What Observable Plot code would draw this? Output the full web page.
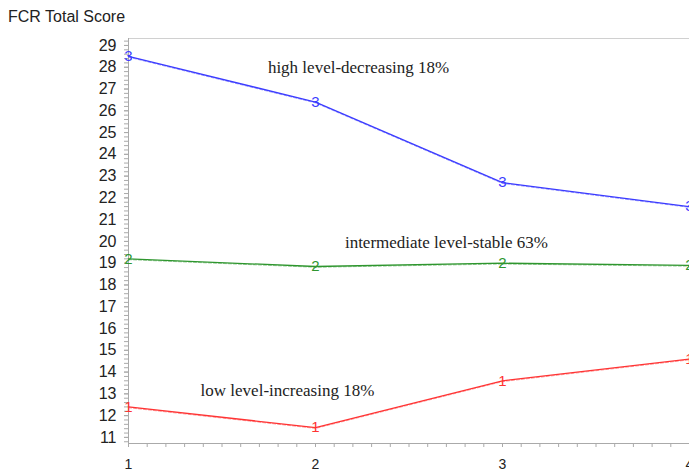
<!DOCTYPE html>
<html>
<head>
<meta charset="utf-8">
<script src="https://cdn.jsdelivr.net/npm/d3@7"></script>
<script src="https://cdn.jsdelivr.net/npm/@observablehq/plot@0.6"></script>
<style>
  body { margin: 0; background: #fff; }
  #title { height: 30px; font: 16px "Liberation Sans", Arial, sans-serif; color: #222; padding-left: 8px; line-height: 34px; box-sizing: border-box; }
</style>
</head>
<body>
<div id="title">FCR Total Score</div>
<div id="chart"></div>
<script>
const timePoints = [1, 2, 3, 4];
const highValues = [28.5, 26.4, 22.7, 21.6];
const midValues = [19.2, 18.85, 19.0, 18.9];
const lowValues = [12.4, 11.45, 13.6, 14.6];
const seriesNames = ["3", "2", "1"];
const seriesColors = ["#3b3bff", "#2f962f", "#ff3434"];
const yTickLabels = d3.range(11, 30);
const xTickLabels = [1, 2, 3, 4];
const annotationTexts = ["high level-decreasing 18%", "intermediate level-stable 63%", "low level-increasing 18%"];
const annotationX = [2.23, 2.70, 1.85];
const annotationY = [28.0, 19.95, 13.15];

const seriesValues = [highValues, midValues, lowValues];
const rows = [];
seriesValues.forEach((vals, i) => vals.forEach((v, j) => rows.push({x: timePoints[j], y: v, g: seriesNames[i], c: seriesColors[i]})));
const notes = annotationTexts.map((t, i) => ({t, x: annotationX[i], y: annotationY[i]}));

const chart = Plot.plot({
  width: 689,
  height: 444,
  marginTop: 8,
  marginLeft: 128,
  marginRight: 0,
  marginBottom: 31,
  style: {background: "#fff", fontFamily: "'Liberation Sans', Arial, sans-serif", overflow: "visible"},
  x: {domain: [1, 4], label: null},
  y: {domain: [10.72, 29.32], label: null},
  marks: [
    Plot.ruleY([29.32], {stroke: "#d0d0d0"}),
    Plot.axisY({ticks: d3.range(10.8, 29.3, 0.2), tickSize: 4, text: null, stroke: "#aaa", label: null}),
    Plot.axisY({ticks: yTickLabels, tickSize: 4, tickPadding: 8, fontSize: 16, fill: "#222", stroke: "#aaa", label: null, tickFormat: "d"}),
    Plot.axisX({ticks: d3.range(1, 4.01, 0.1), tickSize: 4, text: null, stroke: "#aaa", label: null}),
    Plot.axisX({ticks: xTickLabels, tickSize: 4, tickPadding: 12, fontSize: 14, fill: "#222", stroke: "#aaa", label: null, tickFormat: "d"}),
    Plot.ruleX([1], {stroke: "#aaa"}),
    Plot.ruleY([10.72], {stroke: "#aaa"}),
    Plot.line(rows, {x: "x", y: "y", z: "g", stroke: "c", strokeWidth: 1.3}),
    Plot.line(rows, {x: "x", y: "y", z: "g", stroke: "c", strokeWidth: 0.8, strokeDasharray: "3,2", strokeOpacity: 0.6, dy: 0.8}),
    Plot.text(rows, {x: "x", y: "y", text: "g", fill: "c", fontSize: 15}),
    Plot.text(notes, {x: "x", y: "y", text: "t", fontSize: 17, fontFamily: "'Liberation Serif', 'Times New Roman', serif", fill: "#222"})
  ]
});
document.getElementById("chart").appendChild(chart);
</script>
</body>
</html>
